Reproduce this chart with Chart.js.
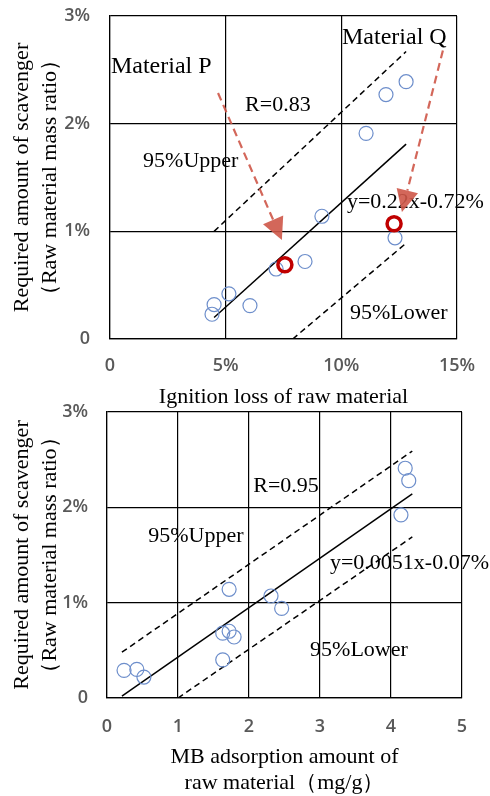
<!DOCTYPE html>
<html>
<head>
<meta charset="utf-8">
<script src="https://cdn.jsdelivr.net/npm/chart.js@4"></script>
<style>
  body { margin: 0; background: #fff; }
  #wrap { position: relative; width: 490px; height: 796px; }
  canvas { position: absolute; left: 0; }
  #c1 { top: 0; }
  #c2 { top: 400px; }
</style>
</head>
<body>
<div id="wrap">
  <canvas id="c1" width="490" height="412"></canvas>
  <canvas id="c2" width="490" height="396"></canvas>
</div>
<script>
// --- upper chart: ignition loss (%) -> scavenger needed (%)
const ignX = [12.8, 11.93, 11.07, 9.16, 12.32, 8.43, 7.18, 5.14, 4.50, 4.41, 6.05];
const ignY = [2.39, 2.27, 1.91, 1.14, 0.94, 0.72, 0.65, 0.42, 0.32, 0.23, 0.31];
const markedX = [7.56, 12.28];   // material P, material Q
const markedY = [0.69, 1.07];
const ignFitX = [4.5, 12.8];
const ignFitY = [0.2, 1.81];
const ignUpX = [4.5, 12.8];
const ignUpY = [1.0, 2.67];
const ignLowX = [7.9, 12.8];
const ignLowY = [0.0, 0.89];
const ignXTicks = [0, 5, 10, 15];
const ignNotes = ['Material P', 'Material Q', 'R=0.83', '95%Upper', 'y=0.22x-0.72%', '95%Lower'];
const ignNoteX = [0.04, 10.03, 5.84, 1.43, 10.24, 10.37];
const ignNoteY = [2.53, 2.80, 2.17, 1.65, 1.27, 0.24];
// arrows: start -> tip
const arrowFromX = [4.67, 14.39];
const arrowFromY = [2.285, 2.68];
const arrowToX = [7.43, 12.62];
const arrowToY = [0.92, 1.18];

// --- lower chart: MB adsorption (mg/g) -> scavenger needed (%)
const mbX = [4.20, 4.25, 4.14, 1.72, 2.31, 2.46, 1.63, 1.72, 1.79, 1.63, 0.24, 0.42, 0.52];
const mbY = [2.41, 2.28, 1.92, 1.14, 1.07, 0.94, 0.68, 0.70, 0.64, 0.40, 0.29, 0.30, 0.22];
const mbFitX = [0.21, 4.3];
const mbFitY = [0.02, 2.14];
const mbUpX = [0.21, 4.3];
const mbUpY = [0.48, 2.59];
const mbLowX = [1.0, 4.3];
const mbLowY = [0.0, 1.69];
const mbXTicks = [0, 1, 2, 3, 4, 5];
const mbNotes = ['R=0.95', '95%Upper', 'y=0.0051x-0.07%', '95%Lower'];
const mbNoteX = [2.06, 0.58, 3.14, 2.86];
const mbNoteY = [2.22, 1.70, 1.41, 0.50];

const yTicks = [0, 1, 2, 3];
const yTitle = ['Required amount of scavenger', '（Raw material mass ratio）'];

const SERIF = '"Liberation Serif", "Times New Roman", serif';
const pts = (xs, ys) => xs.map((v, i) => ({x: v, y: ys[i]}));
const pct = v => v === 0 ? '0' : v + '%';

// text labels + red arrows, placed in data units
function notes(texts, xs, ys, arrows) {
  return {
    id: 'notes',
    afterDatasetsDraw(chart) {
      const ctx = chart.ctx, sx = chart.scales.x, sy = chart.scales.y;
      ctx.save();
      ctx.fillStyle = '#000';
      ctx.textBaseline = 'middle';
      ctx.textAlign = 'left';
      texts.forEach((t, i) => {
        ctx.font = (t.startsWith('Material') ? 24 : 22) + 'px ' + SERIF;
        ctx.fillText(t, sx.getPixelForValue(xs[i]), sy.getPixelForValue(ys[i]));
      });
      if (arrows) {
        const col = 'rgba(206,86,72,0.9)';
        arrows.fx.forEach((fx, i) => {
          const x0 = sx.getPixelForValue(fx), y0 = sy.getPixelForValue(arrows.fy[i]);
          const x1 = sx.getPixelForValue(arrows.tx[i]), y1 = sy.getPixelForValue(arrows.ty[i]);
          const a = Math.atan2(y1 - y0, x1 - x0);
          const L = 22, W = 11;
          const bx = x1 - L * Math.cos(a), by = y1 - L * Math.sin(a);
          ctx.strokeStyle = col;
          ctx.lineWidth = 2.2;
          ctx.setLineDash([8, 5]);
          ctx.beginPath();
          ctx.moveTo(x0, y0);
          ctx.lineTo(bx, by);
          ctx.stroke();
          ctx.setLineDash([]);
          ctx.fillStyle = col;
          ctx.beginPath();
          ctx.moveTo(x1, y1);
          ctx.lineTo(bx + W * Math.sin(a), by - W * Math.cos(a));
          ctx.lineTo(bx - W * Math.sin(a), by + W * Math.cos(a));
          ctx.closePath();
          ctx.fill();
        });
      }
      ctx.restore();
    }
  };
}

function lineSet(xs, ys, dashed) {
  return {
    data: pts(xs, ys), showLine: true, pointRadius: 0,
    borderColor: '#000', borderWidth: 1.5, borderDash: dashed ? [6, 4] : [],
    fill: false
  };
}

const blueRing = {
  pointRadius: 7, pointHoverRadius: 7, borderColor: '#6d8ecb',
  backgroundColor: 'rgba(0,0,0,0)', borderWidth: 1.2
};

function axisCommon() {
  return {
    type: 'linear',
    grid: {color: '#000', lineWidth: 1.2, drawTicks: false},
    border: {color: '#000', width: 1.2},
  };
}
const tickFont = {family: '"Open Sans", sans-serif', size: 18, weight: '600'};

function build(id, cfg) {
  return new Chart(document.getElementById(id), {
    type: 'scatter',
    data: {datasets: cfg.datasets},
    options: {
      responsive: false,
      animation: false,
      layout: {padding: cfg.pad},
      plugins: {legend: {display: false}, tooltip: {enabled: false}},
      scales: {
        x: Object.assign(axisCommon(), {
          min: 0, max: cfg.xTicks[cfg.xTicks.length - 1],
          afterBuildTicks: s => { s.ticks = cfg.xTicks.map(v => ({value: v})); },
          ticks: {padding: cfg.xPad, color: '#595959', font: tickFont, callback: cfg.xFmt},
          title: {display: true, text: cfg.xTitle, color: '#000',
            font: {family: SERIF, size: 22, lineHeight: cfg.xLH}, padding: {top: 0, bottom: cfg.xTitlePad}},
          afterFit: s => { s.height = cfg.xH; s.paddingLeft = 0; s.paddingRight = 0; }
        }),
        y: Object.assign(axisCommon(), {
          min: 0, max: 3,
          afterBuildTicks: s => { s.ticks = yTicks.map(v => ({value: v})); },
          ticks: {padding: cfg.yPad, color: '#595959', font: tickFont, callback: pct},
          title: {display: true, text: yTitle, color: '#000',
            font: {family: SERIF, size: 22, lineHeight: 1.27}, padding: {top: 8, bottom: 0}},
          afterFit: s => { s.width = cfg.yW; s.paddingTop = 0; s.paddingBottom = 0; }
        })
      }
    },
    plugins: [cfg.notes]
  });
}

build('c1', {
  datasets: [
    {data: pts(markedX, markedY), pointRadius: 7, pointHoverRadius: 7, borderColor: '#c00000',
     backgroundColor: 'rgba(0,0,0,0)', borderWidth: 3.5},
    Object.assign({data: pts(ignX, ignY)}, blueRing),
    lineSet(ignFitX, ignFitY, false),
    lineSet(ignUpX, ignUpY, true),
    lineSet(ignLowX, ignLowY, true)
  ],
  pad: {top: 16, right: 33, left: 0, bottom: 0},
  xTicks: ignXTicks, xFmt: pct, xPad: 16,
  xTitle: 'Ignition loss of raw material', xLH: 1.27, xTitlePad: 1, xH: 73,
  yPad: 20, yW: 110,
  notes: notes(ignNotes, ignNoteX, ignNoteY,
    {fx: arrowFromX, fy: arrowFromY, tx: arrowToX, ty: arrowToY})
});

build('c2', {
  datasets: [
    Object.assign({data: pts(mbX, mbY)}, blueRing),
    lineSet(mbFitX, mbFitY, false),
    lineSet(mbUpX, mbUpY, true),
    lineSet(mbLowX, mbLowY, true)
  ],
  pad: {top: 12, right: 28, left: 0, bottom: 0},
  xTicks: mbXTicks, xFmt: v => String(v), xPad: 18,
  xTitle: ['MB adsorption amount of', 'raw material（mg/g）'], xLH: 1.18, xTitlePad: 0, xH: 98,
  yPad: 19, yW: 107,
  notes: notes(mbNotes, mbNoteX, mbNoteY, null)
});
</script>
</body>
</html>
